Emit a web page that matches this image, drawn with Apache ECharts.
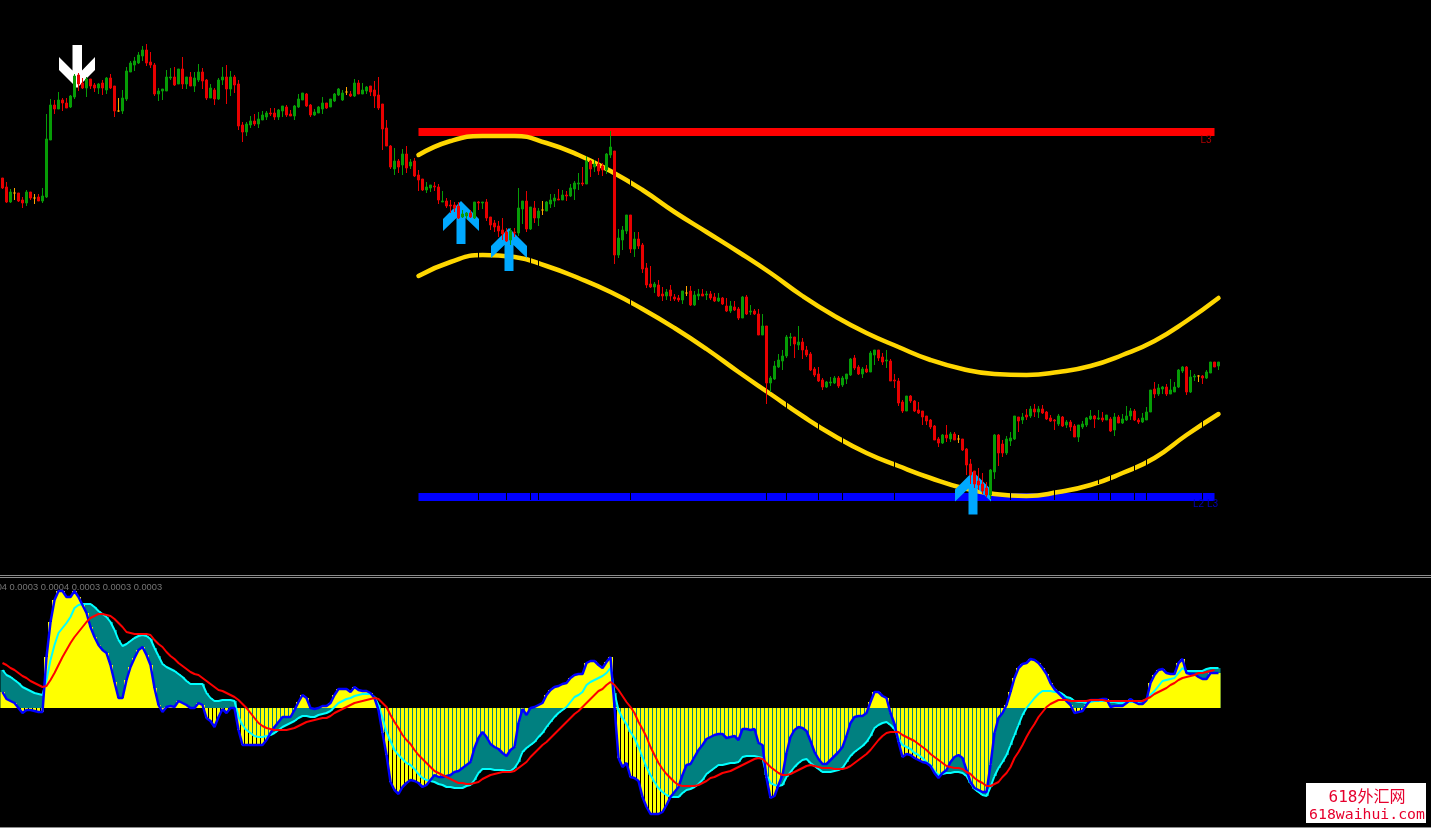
<!DOCTYPE html>
<html><head><meta charset="utf-8">
<style>html,body{margin:0;padding:0;background:#000;}#c{width:1431px;height:828px;}</style>
<script src="https://cdn.jsdelivr.net/npm/echarts@6/dist/echarts.min.js"></script>
</head><body><div id="c"></div>
<script>
// [open, close, low, high] in chart price points
const candlesA=[[422,412,411,422],[413,398,397,418],[398,408,397,411],[407,407,400,412],[407,399,398,407],[400,397,392,403],[397,408,394,410],[408,402,400,408],[402,402,396,406],[403,399,399,406],[399,404,397,412],[403,461,402,486],[460,495,460,501],[495,491,486,500],[491,500,491,508],[500,497,489,502],[497,492,492,502],[493,504,492,505],[503,524,501,526],[525,516,509,527],[517,512,511,522],[512,521,503,523],[521,514,511,521],[515,512,508,517],[512,516,506,517],[517,512,505,520],[510,522,506,523],[522,512,511,526],[514,489,483,514],[489,489,488,502],[489,502,486,510],[501,529,499,533],[528,537,528,539],[535,539,529,543],[537,545,536,548],[544,550,539,554],[550,537,534,556],[538,535,532,548],[535,506,504,537],[506,509,499,512],[509,511,500,511],[509,523,509,530],[522,523,520,532],[523,515,514,533],[516,531,516,531],[531,516,511,543],[516,523,511,523],[523,514,514,528],[514,522,508,528],[520,528,518,536],[528,519,511,532],[520,502,500,521],[502,512,502,516],[510,501,495,512],[501,520,500,522],[520,523,515,533],[523,511,496,535],[511,523,504,529],[523,515,507,525],[516,474,470,520],[475,468,458,478]];
const candlesB=[[468,476,464,478],[475,479,472,484],[479,476,474,486],[476,481,472,488],[480,485,480,489],[483,487,480,489],[487,486,484,492],[487,483,480,492],[483,490,480,491],[489,494,483,494],[493,485,483,495],[486,484,484,490],[484,494,480,495],[493,501,492,506],[500,507,500,507],[506,494,493,507],[495,485,483,496],[485,488,484,491],[487,493,487,494],[491,497,486,503],[497,492,491,497],[493,501,493,501],[499,506,498,507],[505,511,504,512],[500,507,499,510],[508,508,505,513],[506,504,503,509],[504,517,503,521],[517,506,506,520],[506,510,506,517],[509,513,506,514],[514,508,504,514],[510,504,492,519],[505,492,490,523],[496,471,450,496],[472,454,454,480],[454,433,431,455],[431,439,425,452],[439,433,427,441],[435,446,425,451],[446,432,427,454],[434,438,431,441],[439,424,423,442],[425,420,409,430],[421,410,409,421],[410,413,407,418],[412,415,408,415],[414,413,409,418],[413,400,396,416],[398,399,398,409],[399,394,392,402],[395,394,387,400],[395,392,388,398],[394,382,381,398],[383,386,382,390],[384,387,381,388],[387,383,382,390],[382,398,381,398],[398,397,390,399],[397,398,391,398],[398,382,379,401]];
const candlesC=[[383,375,370,383],[377,373,368,380],[374,369,363,379],[370,366,360,382],[368,359,358,372],[360,369,355,372],[368,367,363,372],[367,392,364,412],[391,399,376,399],[399,371,368,409],[371,393,370,393],[392,382,377,399],[382,389,374,392],[390,390,385,399],[389,398,389,399],[396,400,392,406],[399,402,393,406],[401,400,400,411],[400,405,400,410],[405,404,399,409],[404,412,403,416],[411,417,400,419],[416,417,410,427],[417,416,414,433],[416,439,416,444],[439,431,423,440],[433,436,428,440],[436,429,425,442],[434,430,424,437],[430,446,426,447],[445,453,442,469],[449,345,336,449],[345,362,342,371],[360,370,350,374],[369,385,366,385],[385,351,347,385],[351,361,343,368],[361,354,351,368],[355,331,327,357],[332,315,312,337],[316,313,312,334],[313,316,307,318],[315,304,303,320],[306,304,299,313],[304,308,300,311],[310,304,299,315],[303,301,299,306],[302,300,298,305],[300,309,296,309],[307,307,304,314],[309,295,294,314],[295,305,294,309],[304,306,300,311],[306,304,304,311],[305,306,300,309],[306,302,300,309],[303,299,298,307],[299,302,298,307],[302,296,295,303],[294,289,288,302],[289,294,287,299]];
const candlesD=[[293,290,289,299],[291,282,280,293],[282,303,282,304],[303,286,285,305],[288,289,285,295],[289,286,285,291],[286,265,265,291],[265,274,265,286],[274,217,196,274],[217,222,208,224],[221,234,220,239],[233,240,232,246],[239,244,230,250],[244,263,242,265],[262,263,254,267],[263,256,242,263],[255,258,250,274],[258,250,241,262],[250,245,243,254],[246,230,229,248],[231,225,223,233],[226,219,218,233],[220,213,210,222],[213,218,212,219],[217,218,214,223],[217,222,216,224],[222,214,212,224],[215,222,213,224],[221,226,216,226],[225,241,224,242],[242,232,230,245],[233,226,225,235],[226,231,222,233],[231,228,227,235],[228,247,228,249],[245,250,235,250],[250,242,239,250],[243,238,235,247],[239,240,232,250],[239,219,219,241],[220,219,212,226],[219,197,194,222],[198,189,187,200],[189,204,189,204],[204,199,197,205],[199,189,188,200],[190,187,186,198],[189,183,175,189],[184,179,175,184],[180,173,171,181],[174,160,160,175],[161,157,153,163],[157,165,156,166],[165,162,158,175],[161,166,158,168],[166,160,160,168],[161,161,157,165],[161,150,149,161],[151,135,125,152],[136,125,116,141],[129,116,112,129]];
const candlesE=[[119,115,110,132],[116,109,106,127],[112,105,103,118],[105,130,101,131],[128,165,121,166],[165,147,134,166],[156,147,143,160],[147,161,145,164],[159,162,154,168],[161,184,160,184],[183,179,168,183],[180,183,176,187],[185,183,180,191],[184,191,182,194],[191,188,183,196],[188,191,182,194],[191,187,186,195],[188,181,180,189],[182,179,178,185],[180,179,170,181],[176,184,174,186],[183,174,173,184],[175,178,172,180],[178,173,169,180],[174,163,163,176],[163,175,158,175],[173,176,171,179],[175,182,173,183],[181,184,180,190],[184,181,172,185],[181,182,180,190],[182,180,178,188],[180,185,180,185],[181,169,168,183],[170,183,164,187],[183,177,177,185],[177,181,176,186],[180,184,179,194],[184,189,180,192],[189,180,179,191],[180,178,176,182],[178,182,177,187],[180,188,180,193],[188,210,188,210],[211,206,202,218],[206,212,204,216],[211,213,206,214],[213,206,204,216],[206,210,206,221],[208,213,208,218],[213,230,212,231],[229,233,227,234],[233,208,205,234],[208,223,207,230],[223,224,219,226],[224,224,218,225],[224,222,216,225],[222,228,221,230],[227,238,227,238],[238,233,233,238],[234,238,230,238]];
const dojiBars=[3,8,29,86,135,171,239,299];

const bandBars=[104,112,120,128,136,144,152,160,168,176,184,192,200,208,216,224,232,240,248,256,264,272,280,288,296,304];
const upperBand=[445,459,464,464,457,445,429,410,388,368,348,327,304,284,267,253,240,231,226,225,228,234,245,259,279,302];
const lowerBand=[324,338,345,343,334,322,308,291,272,251,228,206,184,164,147,134,122,112,106,104,108,115,127,142,165,186];
const resistance=[[104,468],[303,468]];
const support=[[104,103],[303,103]];
// [bar, low, high] of the short black breaks seen on the lines
const breaks=[[119,100,107],[119,341,349],[126,100,107],[132,100,107],[132,336,344],[134,100,107],[134,333,341],[157,100,107],[157,294,302],[157,414,426],[158,300,308],[191,100,107],[191,206,214],[196,100,107],[196,191,199],[204,100,107],[204,170,178],[210,100,107],[210,155,163],[223,100,107],[223,132,140],[252,100,107],[263,100,107],[263,104,112],[274,100,107],[274,116,124],[277,100,107],[277,119,127],[283,100,107],[283,129,137],[286,100,107],[286,134,142],[300,100,107],[300,171,179]];
// [bar, price]
const sellArrows=[[19,533.5]];
const buyArrows=[[115,377.5],[127,350.5],[243,107]];

const fastLine=[16,9,7,5,0,-5,-2,-2,-3,-4,-4,51,86,108,117,117,111,111,117,111,103,95,81,71,63,58,55,43,26,10,10,28,41,50,58,61,53,43,20,3,-4,1,2,1,7,5,3,0,0,5,3,-10,-13,-19,-9,-1,-5,0,0,-22,-37,-37,-37,-37,-37,-37,-32,-25,-19,-14,-9,-9,-9,-2,6,13,10,0,-1,0,2,2,5,13,19,19,19,16,21,18,17,17,15,10,-2,-25,-47,-74,-82,-86,-79,-75,-72,-73,-75,-79,-77,-72,-67,-69,-69,-68,-67,-64,-63,-60,-57,-54,-40,-30,-24,-29,-36,-39,-41,-45,-48,-42,-39,-15,-1,-7,0,1,3,5,13,18,21,22,24,25,30,33,34,34,45,47,47,43,40,46,51,1,-50,-59,-55,-69,-70,-73,-89,-99,-106,-106,-106,-104,-97,-89,-84,-79,-67,-57,-56,-49,-42,-37,-31,-29,-27,-26,-26,-30,-29,-28,-32,-21,-21,-22,-21,-35,-37,-70,-90,-88,-77,-67,-45,-29,-22,-19,-20,-23,-33,-44,-51,-56,-56,-52,-48,-44,-39,-28,-15,-9,-8,-8,-5,6,16,16,12,10,-5,-16,-34,-49,-46,-47,-50,-52,-54,-55,-58,-65,-70,-65,-62,-54,-49,-47,-50,-62,-74,-80,-82,-84,-84,-57,-25,-10,-5,3,16,30,40,44,45,49,48,45,40,34,25,19,15,11,7,3,-5,-4,-3,3,8,8,8,9,9,1,2,2,2,5,9,6,4,4,8,25,33,38,39,35,34,34,45,49,35,34,34,31,29,29,35,35,35];
const signalLine=[38,33,31,28,25,21,19,17,15,14,13,28,48,63,75,80,85,91,100,103,104,104,104,101,97,94,91,86,78,68,62,64,67,70,72,73,72,69,60,52,44,41,39,37,34,31,27,24,24,24,24,15,10,7,7,8,8,8,7,-9,-17,-22,-25,-28,-29,-29,-28,-27,-25,-22,-19,-17,-15,-13,-10,-8,-8,-9,-9,-7,-6,-5,-3,1,5,7,9,10,12,13,14,14,14,11,3,-10,-24,-33,-42,-47,-51,-55,-57,-61,-66,-70,-72,-73,-74,-76,-77,-79,-79,-80,-80,-80,-78,-77,-72,-65,-61,-61,-61,-62,-62,-62,-63,-63,-60,-54,-44,-40,-37,-34,-29,-25,-19,-14,-9,-5,-2,1,6,11,13,16,23,26,28,30,32,35,40,15,-2,-10,-16,-24,-30,-39,-49,-59,-67,-74,-80,-84,-87,-89,-89,-89,-85,-82,-81,-79,-76,-72,-66,-63,-60,-57,-57,-56,-55,-55,-54,-49,-48,-48,-48,-49,-50,-67,-75,-77,-78,-77,-69,-64,-59,-55,-52,-51,-55,-58,-61,-64,-64,-64,-63,-62,-60,-54,-48,-44,-41,-38,-34,-28,-20,-17,-15,-14,-17,-21,-30,-37,-39,-41,-45,-47,-50,-54,-57,-63,-67,-66,-65,-65,-64,-64,-65,-68,-75,-81,-84,-87,-88,-79,-68,-60,-54,-47,-37,-27,-17,-7,0,5,10,14,17,17,17,16,16,14,11,10,7,6,6,5,6,7,7,7,7,6,6,5,5,6,6,6,6,7,8,13,17,22,27,28,29,30,35,40,37,37,37,37,37,39,40,40,40];
const slowLine=[45,43,40,38,35,32,30,27,25,23,21,22,28,35,43,51,58,65,71,76,81,86,90,92,94,94,93,92,89,85,81,76,75,74,74,74,74,73,68,64,61,56,52,49,45,42,39,36,34,33,30,27,24,21,18,17,15,13,11,8,4,0,-5,-10,-15,-18,-20,-21,-22,-22,-22,-22,-21,-20,-18,-16,-14,-13,-12,-11,-10,-10,-8,-5,-3,-1,1,3,5,6,7,8,9,10,9,5,1,-7,-14,-20,-27,-32,-36,-42,-47,-51,-55,-59,-63,-65,-67,-69,-71,-73,-75,-75,-76,-76,-75,-74,-71,-69,-67,-66,-65,-64,-64,-64,-63,-60,-57,-54,-49,-45,-41,-37,-34,-30,-26,-22,-18,-14,-10,-6,-3,1,5,9,13,17,19,23,26,23,18,12,6,1,-5,-14,-21,-29,-39,-47,-55,-61,-66,-70,-74,-77,-78,-78,-78,-78,-77,-75,-73,-70,-69,-67,-65,-64,-63,-61,-59,-57,-55,-53,-51,-50,-51,-55,-59,-62,-65,-67,-67,-66,-64,-62,-60,-58,-57,-58,-59,-60,-60,-60,-61,-61,-61,-60,-58,-55,-52,-49,-46,-42,-37,-32,-28,-25,-24,-24,-24,-27,-29,-31,-33,-36,-39,-42,-46,-49,-52,-55,-58,-59,-60,-60,-61,-64,-66,-70,-73,-75,-78,-78,-76,-74,-69,-65,-59,-50,-44,-37,-29,-22,-16,-9,-4,1,4,6,8,8,8,7,7,7,7,7,8,8,8,8,7,7,7,7,7,7,7,7,7,7,9,11,14,16,18,20,23,25,28,30,31,32,33,35,35,36,37,38];

const candles=[].concat(candlesA,candlesB,candlesC,candlesD,candlesE);
const bars=candles.map((_,i)=>String(i));
const GREEN='#069c06',RED='#e80000',ORANGE='#ffa500',YELLOW='#ffff00',TEAL='#008080';
const chart=echarts.init(document.getElementById('c'),null,{renderer:'canvas',devicePixelRatio:1});
const up='path://M18 0L36 18L36 30L22.5 17L22.5 43L13.5 43L13.5 17L0 30L0 18Z';
const down='path://M13.5 0L23 0L23 25.5L36 12L36 25L18 43L0 25L0 12L13.5 25.5Z';
const pair=(b,v)=>b.map((x,k)=>[x,v[k]]);
const hiddenX=g=>({type:'category',gridIndex:g,data:bars,show:false,boundaryGap:true});
const line=(data,color,width,z,smooth)=>({type:'line',xAxisIndex:0,yAxisIndex:0,data,symbol:'none',smooth:!!smooth,z,silent:true,lineStyle:{color,width,cap:smooth?'round':'butt'}});
const osc=(data,color,width,z)=>({type:'line',xAxisIndex:1,yAxisIndex:1,data,symbol:'none',z,silent:true,lineStyle:{color,width}});
const hist=(data,color,width,axis,z)=>({type:'bar',xAxisIndex:axis,yAxisIndex:1,data,barWidth:width,z,silent:true,itemStyle:{color}});
const ticks=(p,a)=>{const s=a.coord([a.value(0),a.value(1)]),e=a.coord([a.value(0),a.value(2)]);return {type:'rect',shape:{x:s[0]-0.5,y:e[1],width:1,height:s[1]-e[1]},style:{fill:'#000'}};};
chart.setOption({
  animation:false,backgroundColor:'#000',
  grid:[{left:0.5,top:0,width:1220,height:575},{left:0.5,top:578,width:1220,height:249}],
  xAxis:[hiddenX(0),hiddenX(1),hiddenX(1),hiddenX(1)],
  yAxis:[{type:'value',gridIndex:0,min:25,max:600,show:false},{type:'value',gridIndex:1,min:-119,max:130,show:false}],
  series:[
    line(resistance,'#ff0000',8,2),
    line(support,'#0000ff',8,2),
    line(pair(bandBars,upperBand),'#ffd700',4.5,3,true),
    line(pair(bandBars,lowerBand),'#ffd700',4.5,3,true),
    {type:'custom',xAxisIndex:0,yAxisIndex:0,data:breaks,z:4,silent:true,renderItem:ticks,encode:{x:0,y:[1,2]}},
    {type:'scatter',xAxisIndex:0,yAxisIndex:0,data:buyArrows,symbol:up,symbolSize:[36,43],symbolOffset:[-1.5,0],z:5,silent:true,itemStyle:{color:'#00a8ff',opacity:1}},
    {type:'scatter',xAxisIndex:0,yAxisIndex:0,data:sellArrows,symbol:down,symbolSize:[36,43],symbolOffset:[-1.5,0],z:5,silent:true,itemStyle:{color:'#ffffff',opacity:1}},
    {type:'candlestick',xAxisIndex:0,yAxisIndex:0,barWidth:3,large:false,z:6,silent:true,
     data:candles.map((c,i)=>dojiBars.includes(i)?{value:c,itemStyle:{color:ORANGE,color0:ORANGE,borderColor:ORANGE,borderColor0:ORANGE}}:c),
     itemStyle:{color:GREEN,color0:RED,borderColor:GREEN,borderColor0:RED,borderWidth:1}},
    hist(signalLine,TEAL,5,1,2),
    hist(fastLine.map(v=>v>0?v:null),YELLOW,5,2,3),
    hist(fastLine.map(v=>v<0?v:null),YELLOW,3,3,3),
    osc(signalLine,'#00ffff',2,4),
    osc(fastLine,'#0000ff',2.5,5),
    osc(slowLine,'#ff0000',2,6)
  ],
  graphic:[
    {type:'rect',z:100,shape:{x:0,y:575,width:1431,height:1},style:{fill:'#8c8c8c'}},
    {type:'rect',z:100,shape:{x:0,y:577,width:1431,height:1},style:{fill:'#8c8c8c'}},
    {type:'rect',z:100,shape:{x:0,y:827,width:1431,height:1},style:{fill:'#8c8c8c'}},
    {type:'text',z:100,style:{x:-21.4,y:583,text:'0.0004 0.0003 0.0004 0.0003 0.0003 0.0003',fill:'#767676',font:'9.3px "Liberation Sans"'}},
    {type:'text',z:100,style:{x:1200.5,y:135,text:'L3',fill:'#b00000',font:'10px "Liberation Sans"'}},
    {type:'text',z:100,style:{x:1193,y:499,text:'L2 L3',fill:'#0000b8',font:'10px "Liberation Sans"'}},
    {type:'rect',z:100,shape:{x:1306,y:783,width:120,height:40},style:{fill:'#ffffff'}},
    {type:'text',z:101,style:{x:1367,y:790,text:'618外汇网',fill:'#e6002d',textAlign:'center',font:'16px "DejaVu Sans Mono","Noto Sans CJK SC"'}},
    {type:'text',z:101,style:{x:1367,y:808,text:'618waihui.com',fill:'#e6002d',textAlign:'center',font:'14.8px "DejaVu Sans Mono"'}}
  ]
});
</script></body></html>
